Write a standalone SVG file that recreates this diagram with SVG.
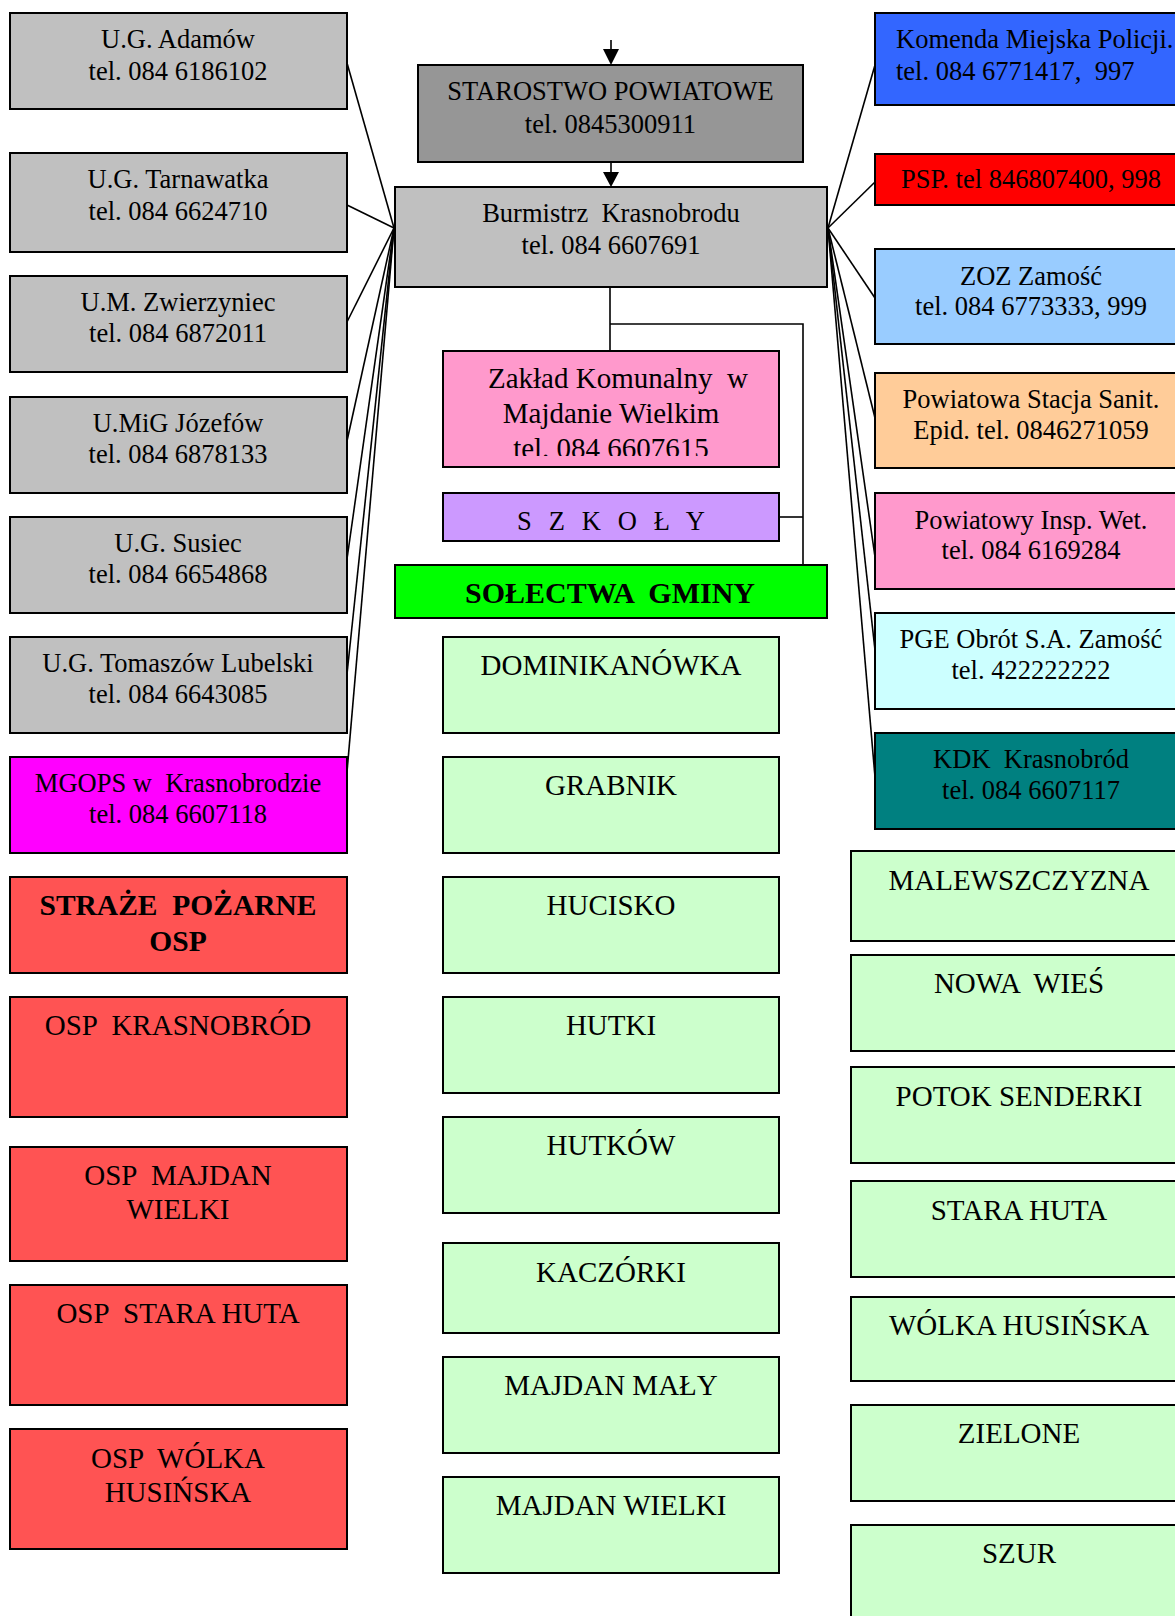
<svg xmlns="http://www.w3.org/2000/svg" width="1175" height="1616" viewBox="0 0 1175 1616">
<style>
rect.b{stroke:#000;stroke-width:2}
text{font-family:"Liberation Serif","Times New Roman",serif;font-size:26.5px;fill:#000;text-anchor:middle;white-space:pre}
text.big{font-size:29px}
text.bold{font-weight:bold;font-size:29.5px}
text.l{text-anchor:start}
.gray{fill:#c0c0c0}.dgray{fill:#969696}.vill{fill:#ccffcc}.osp{fill:#ff5353}
#connectors path{fill:none;stroke:#000;stroke-width:1.6}
</style>
<defs>
<clipPath id="zkclip"><rect x="443" y="351" width="336" height="105"/></clipPath>
</defs>
<rect width="1175" height="1616" fill="#fff"/>

<g id="connectors">
<path d="M611 40 V60"/>
<path d="M611 162 V182"/>
<path d="M394 228 L347 63"/>
<path d="M394 228 L347 205"/>
<path d="M394 228 L347 322"/>
<path d="M394 228 L347 441"/>
<path d="M394 228 L347 559"/>
<path d="M394 228 L347 674"/>
<path d="M394 228 L347 772"/>
<path d="M828 228 L875 65"/>
<path d="M828 228 L875 182"/>
<path d="M828 228 L875 298"/>
<path d="M828 228 L875 418"/>
<path d="M828 228 L875 557"/>
<path d="M828 228 L875 650"/>
<path d="M828 228 L875 777"/>
<path d="M610 287 V351"/>
<path d="M610 324 H803 V565"/>
<path d="M779 517 H803"/>
<polygon points="603,49 619,49 611,65" fill="#000"/>
<polygon points="603,172 619,172 611,187" fill="#000"/>
</g>

<g id="starostwo"><rect class="b dgray" x="418" y="65" width="385" height="97"/>
<text x="610.5" y="100">STAROSTWO POWIATOWE</text><text x="610.5" y="133">tel. 0845300911</text></g>
<g id="burmistrz"><rect class="b gray" x="395" y="187" width="432" height="100"/>
<text x="611" y="222" xml:space="preserve">Burmistrz  Krasnobrodu</text><text x="611" y="254">tel. 084 6607691</text></g>

<g id="adamow"><rect class="b gray" x="10" y="13" width="337" height="96"/>
<text x="178" y="48">U.G. Adamów</text><text x="178" y="80">tel. 084 6186102</text></g>
<g id="tarnawatka"><rect class="b gray" x="10" y="153" width="337" height="99"/>
<text x="178" y="188">U.G. Tarnawatka</text><text x="178" y="220">tel. 084 6624710</text></g>
<g id="zwierzyniec"><rect class="b gray" x="10" y="276" width="337" height="96"/>
<text x="178" y="311">U.M. Zwierzyniec</text><text x="178" y="342">tel. 084 6872011</text></g>
<g id="jozefow"><rect class="b gray" x="10" y="397" width="337" height="96"/>
<text x="178" y="432">U.MiG Józefów</text><text x="178" y="463">tel. 084 6878133</text></g>
<g id="susiec"><rect class="b gray" x="10" y="517" width="337" height="96"/>
<text x="178" y="552">U.G. Susiec</text><text x="178" y="583">tel. 084 6654868</text></g>
<g id="tomaszow"><rect class="b gray" x="10" y="637" width="337" height="96"/>
<text x="178" y="672">U.G. Tomaszów Lubelski</text><text x="178" y="703">tel. 084 6643085</text></g>
<g id="mgops"><rect class="b" fill="#ff00ff" x="10" y="757" width="337" height="96"/>
<text x="178" y="792" xml:space="preserve">MGOPS w  Krasnobrodzie</text><text x="178" y="823">tel. 084 6607118</text></g>

<g id="straze"><rect class="b osp" x="10" y="877" width="337" height="96"/>
<text class="bold" x="178" y="915" xml:space="preserve">STRAŻE  POŻARNE</text><text class="bold" x="178" y="951">OSP</text></g>
<g id="osp-krasnobrod"><rect class="b osp" x="10" y="997" width="337" height="120"/>
<text class="big" x="178" y="1035" xml:space="preserve">OSP  KRASNOBRÓD</text></g>
<g id="osp-majdan"><rect class="b osp" x="10" y="1147" width="337" height="114"/>
<text class="big" x="178" y="1185" xml:space="preserve">OSP  MAJDAN</text><text class="big" x="178" y="1219">WIELKI</text></g>
<g id="osp-stara-huta"><rect class="b osp" x="10" y="1285" width="337" height="120"/>
<text class="big" x="178" y="1323" xml:space="preserve">OSP  STARA HUTA</text></g>
<g id="osp-wolka"><rect class="b osp" x="10" y="1429" width="337" height="120"/>
<text class="big" x="178" y="1468" xml:space="preserve">OSP  WÓLKA</text><text class="big" x="178" y="1502">HUSIŃSKA</text></g>

<g id="komenda"><rect class="b" fill="#3366ff" x="875" y="13" width="312" height="92"/>
<text class="l" x="896" y="48">Komenda Miejska Policji.</text><text class="l" x="896" y="80" xml:space="preserve">tel. 084 6771417,  997</text></g>
<g id="psp"><rect class="b" fill="#ff0000" x="875" y="154" width="312" height="51"/>
<text x="1031" y="188" fill="#1a0000">PSP. tel 846807400, 998</text></g>
<g id="zoz"><rect class="b" fill="#99ccff" x="875" y="249" width="312" height="95"/>
<text x="1031" y="285">ZOZ Zamość</text><text x="1031" y="315">tel. 084 6773333, 999</text></g>
<g id="sanepid"><rect class="b" fill="#ffcc99" x="875" y="373" width="312" height="95"/>
<text x="1031" y="408">Powiatowa Stacja Sanit.</text><text x="1031" y="439">Epid. tel. 0846271059</text></g>
<g id="wet"><rect class="b" fill="#ff99cc" x="875" y="493" width="312" height="96"/>
<text x="1031" y="529">Powiatowy Insp. Wet.</text><text x="1031" y="559">tel. 084 6169284</text></g>
<g id="pge"><rect class="b" fill="#ccffff" x="875" y="613" width="312" height="96"/>
<text x="1031" y="648">PGE Obrót S.A. Zamość</text><text x="1031" y="679">tel. 422222222</text></g>
<g id="kdk"><rect class="b" fill="#008080" x="875" y="733" width="312" height="96"/>
<text x="1031" y="768" xml:space="preserve">KDK  Krasnobród</text><text x="1031" y="799">tel. 084 6607117</text></g>

<g id="zaklad"><rect class="b" fill="#ff99cc" x="443" y="351" width="336" height="116"/>
<text class="big" x="618" y="388" xml:space="preserve">Zakład Komunalny  w</text><text class="big" x="611" y="423">Majdanie Wielkim</text>
<text class="big" x="611" y="458" clip-path="url(#zkclip)">tel. 084 6607615</text></g>
<g id="szkoly"><rect class="b" fill="#cc99ff" x="443" y="493" width="336" height="48"/>
<text x="611" y="530" textLength="188" lengthAdjust="spacing" xml:space="preserve">S  Z  K  O  Ł  Y</text></g>
<g id="solectwa"><rect class="b" fill="#00ff00" x="395" y="565" width="432" height="53"/>
<text class="bold" x="610" y="603" style="font-size:30px" xml:space="preserve">SOŁECTWA  GMINY</text></g>

<g id="dominikanowka"><rect class="b vill" x="443" y="637" width="336" height="96"/><text class="big" x="611" y="675">DOMINIKANÓWKA</text></g>
<g id="grabnik"><rect class="b vill" x="443" y="757" width="336" height="96"/><text class="big" x="611" y="795">GRABNIK</text></g>
<g id="hucisko"><rect class="b vill" x="443" y="877" width="336" height="96"/><text class="big" x="611" y="915">HUCISKO</text></g>
<g id="hutki"><rect class="b vill" x="443" y="997" width="336" height="96"/><text class="big" x="611" y="1035">HUTKI</text></g>
<g id="hutkow"><rect class="b vill" x="443" y="1117" width="336" height="96"/><text class="big" x="611" y="1155">HUTKÓW</text></g>
<g id="kaczorki"><rect class="b vill" x="443" y="1243" width="336" height="90"/><text class="big" x="611" y="1282">KACZÓRKI</text></g>
<g id="majdan-maly"><rect class="b vill" x="443" y="1357" width="336" height="96"/><text class="big" x="611" y="1395">MAJDAN MAŁY</text></g>
<g id="majdan-wielki"><rect class="b vill" x="443" y="1477" width="336" height="96"/><text class="big" x="611" y="1515">MAJDAN WIELKI</text></g>

<g id="malewszczyzna"><rect class="b vill" x="851" y="851" width="336" height="90"/><text class="big" x="1019" y="890">MALEWSZCZYZNA</text></g>
<g id="nowa-wies"><rect class="b vill" x="851" y="955" width="336" height="96"/><text class="big" x="1019" y="993" xml:space="preserve">NOWA  WIEŚ</text></g>
<g id="potok-senderki"><rect class="b vill" x="851" y="1067" width="336" height="96"/><text class="big" x="1019" y="1106">POTOK SENDERKI</text></g>
<g id="stara-huta"><rect class="b vill" x="851" y="1181" width="336" height="96"/><text class="big" x="1019" y="1220">STARA HUTA</text></g>
<g id="wolka-husinska"><rect class="b vill" x="851" y="1297" width="336" height="84"/><text class="big" x="1019" y="1335">WÓLKA HUSIŃSKA</text></g>
<g id="zielone"><rect class="b vill" x="851" y="1405" width="336" height="96"/><text class="big" x="1019" y="1443">ZIELONE</text></g>
<g id="szur"><rect class="b vill" x="851" y="1525" width="336" height="110"/><text class="big" x="1019" y="1563">SZUR</text></g>
</svg>
